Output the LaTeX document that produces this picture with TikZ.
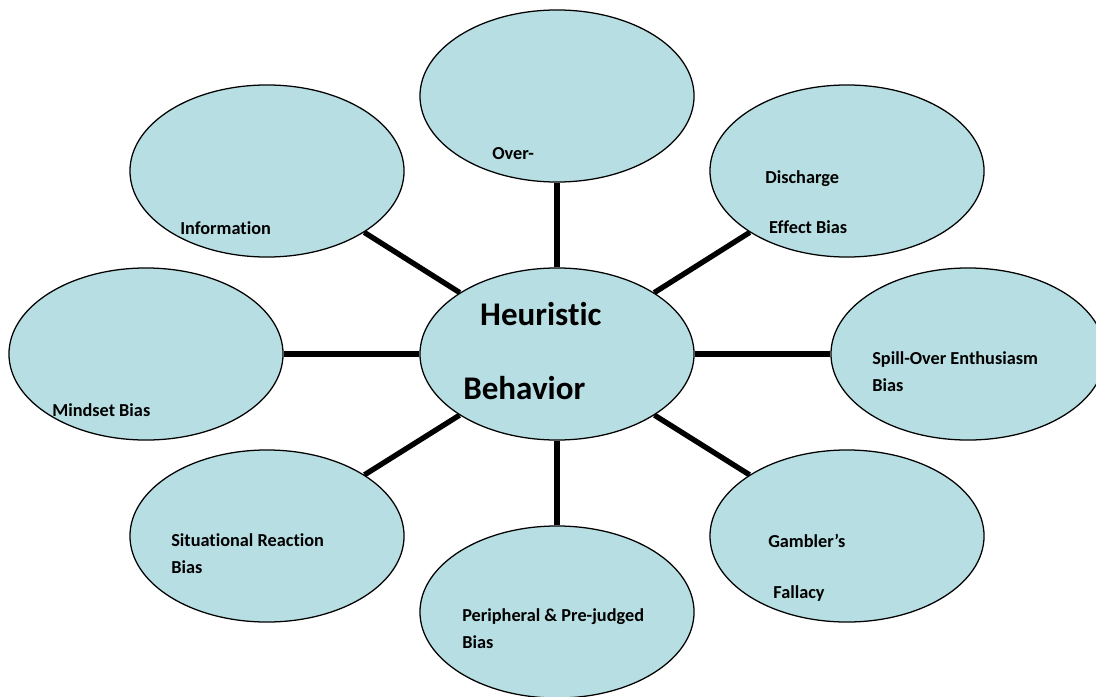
\documentclass[tikz,border=0pt]{standalone}
\usepackage{fontspec}
\setmainfont{Carlito}[Ligatures=NoCommon]
\usetikzlibrary{shapes.geometric}
\definecolor{bubblefill}{HTML}{B7DEE2}

\begin{document}
\begin{tikzpicture}[x=0.025cm, y=-0.025cm,
	bubble/.style={shape=ellipse, draw, fill=bubblefill, line width=0.9pt,
		minimum width=6.85cm, minimum height=4.3cm, inner sep=0pt},
	spoke/.style={line width=3.8pt},
	txt/.style={anchor=base west, align=left, inner sep=0pt,
		font=\bfseries\fontsize{13}{19}\selectfont}]

	\useasboundingbox (0,0) rectangle (1096,696);

	\node (hb) at (557,354) [bubble] {};
	\node (over) at (557,96) [bubble] {};
	\node (info) at (267,171) [bubble] {};
	\node (disch) at (847,171) [bubble] {};
	\node (mind) at (146,354) [bubble] {};
	\node (spill) at (968,354) [bubble] {};
	\node (situ) at (267,536) [bubble] {};
	\node (peri) at (557,612) [bubble] {};
	\node (gamb) at (847,536) [bubble] {};

	\draw[spoke] (hb) -- (over);
	\draw[spoke] (hb) -- (info);
	\draw[spoke] (hb) -- (disch);
	\draw[spoke] (hb) -- (mind);
	\draw[spoke] (hb) -- (spill);
	\draw[spoke] (hb) -- (situ);
	\draw[spoke] (hb) -- (peri);
	\draw[spoke] (hb) -- (gamb);

	% labels sit on the baseline of their last line
	\node (hbtext) at (463,399) [txt, font=\bfseries\fontsize{23.5}{52.6}\selectfont]
		{\hspace*{12pt}Heuristic\\Behavior};
	\node (overtext) at (492,159) [txt] {Over-};
	\node (infotext) at (180,234) [txt] {Information};
	\node (dischtext) at (765,233) [txt] {Discharge\\[16.5pt]\hspace*{2.8pt}Effect Bias};
	\node (mindtext) at (52,416) [txt] {Mindset Bias};
	\node (spilltext) at (872,391) [txt] {Spill-Over Enthusiasm\\Bias};
	\node (situtext) at (171,573) [txt] {Situational Reaction\\Bias};
	\node (peritext) at (462,648) [txt] {Peripheral \& Pre-judged\\Bias};
	\node (gambtext) at (768,598) [txt] {Gambler’s\\[17pt]\hspace*{3.6pt}Fallacy};
\end{tikzpicture}
\end{document}
